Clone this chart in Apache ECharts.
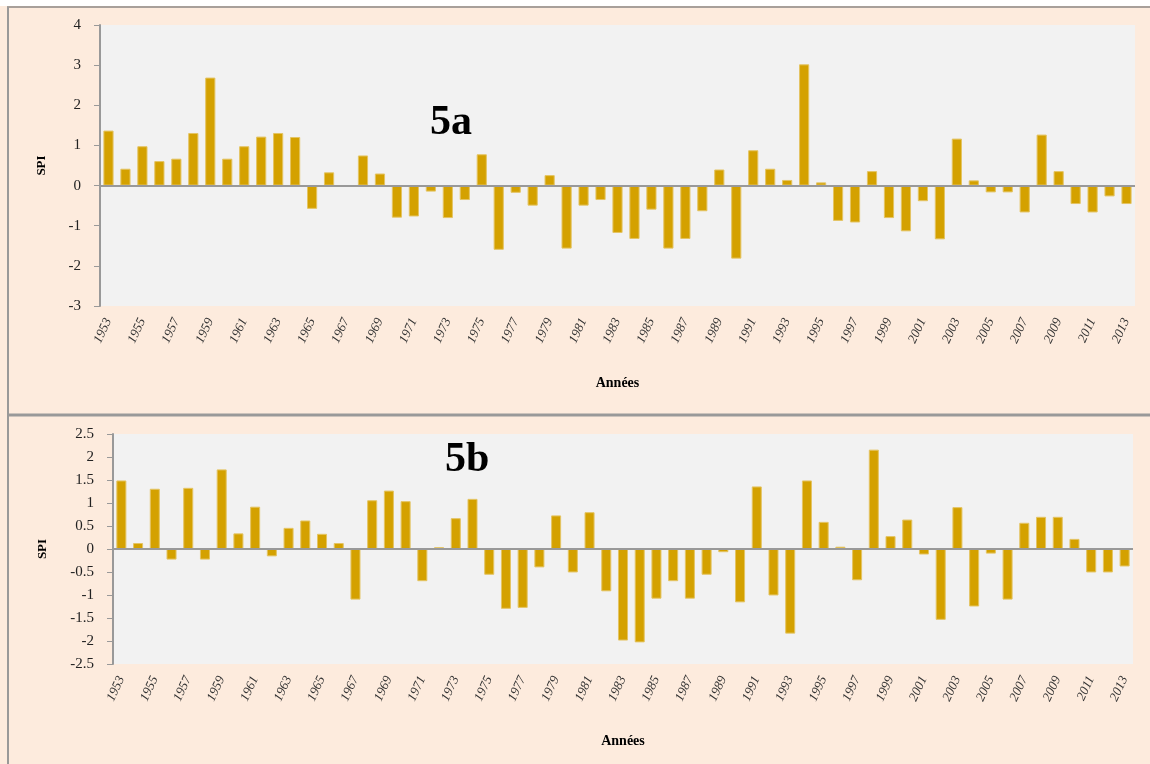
<!DOCTYPE html>
<html>
<head>
<meta charset="utf-8">
<title>SPI 5a / 5b</title>
<script src="https://cdn.jsdelivr.net/npm/echarts@6/dist/echarts.min.js"></script>
<style>
  html, body { margin: 0; padding: 0; background: #fff; }
  #chart { width: 1150px; height: 764px; }
</style>
</head>
<body>
<div id="chart"></div>
<script>
// années 1953 - 2013
var years = [];
for (var y = 1953; y <= 2013; y++) years.push(String(y));

// SPI, figure 5a
var spiA = [
  1.37, 0.42, 0.98, 0.61, 0.67, 1.31, 2.69, 0.67, 0.98, 1.22,
  1.31, 1.21, -0.58, 0.33, 0, 0.75, 0.30, -0.80, -0.77, -0.15,
  -0.81, -0.36, 0.78, -1.60, -0.18, -0.50, 0.26, -1.57, -0.50, -0.36,
  -1.18, -1.33, -0.60, -1.57, -1.33, -0.64, 0.40, -1.82, 0.88, 0.42,
  0.14, 3.02, 0.08, -0.88, -0.92, 0.36, -0.81, -1.14, -0.39, -1.34,
  1.17, 0.13, -0.17, -0.17, -0.67, 1.27, 0.36, -0.46, -0.67, -0.27,
  -0.46
];

// SPI, figure 5b
var spiB = [
  1.49, 0.13, 1.31, -0.23, 1.33, -0.23, 1.73, 0.34, 0.92, -0.16,
  0.46, 0.62, 0.33, 0.13, -1.10, 1.06, 1.27, 1.04, -0.70, 0.04,
  0.67, 1.09, -0.56, -1.30, -1.28, -0.40, 0.73, -0.51, 0.80, -0.92,
  -1.99, -2.03, -1.08, -0.70, -1.08, -0.56, -0.07, -1.16, 1.36, -1.01,
  -1.84, 1.49, 0.59, 0.05, -0.68, 2.16, 0.28, 0.64, -0.12, -1.54,
  0.91, -1.25, -0.10, -1.10, 0.57, 0.70, 0.70, 0.22, -0.51, -0.51,
  -0.38
];

var serif = "'Liberation Serif', 'DejaVu Serif', serif";
var barColor = "#D4A100";

function xAxisOf(gi) {
  return {
    type: "category",
    gridIndex: gi,
    data: years,
    axisLine: { show: false },
    axisTick: { show: false },
    axisLabel: {
      interval: 1,
      rotate: 65,
      margin: 13,
      fontFamily: serif,
      fontStyle: "italic",
      fontSize: 13,
      color: "#333"
    },
    name: "Années",
    nameLocation: "middle",
    nameGap: 70,
    nameTextStyle: { fontFamily: serif, fontWeight: "bold", fontSize: 14, color: "#000" }
  };
}

function yAxisOf(gi, min, max, step, gap) {
  return {
    type: "value",
    gridIndex: gi,
    min: min,
    max: max,
    interval: step,
    axisLine: { show: true, lineStyle: { color: "#999", width: 2 } },
    axisTick: { show: true, length: 6, lineStyle: { color: "#999" } },
    axisLabel: { margin: 19, fontFamily: serif, fontSize: 15, color: "#222" },
    splitLine: { show: false },
    name: "SPI",
    nameLocation: "middle",
    nameGap: gap,
    nameTextStyle: { fontFamily: serif, fontWeight: "bold", fontSize: 13, color: "#000" }
  };
}

function barsOf(gi, values) {
  return {
    type: "bar",
    xAxisIndex: gi,
    yAxisIndex: gi,
    data: values,
    barCategoryGap: "40%",
    itemStyle: { color: barColor, borderColor: "#E4C463", borderWidth: 1 },
    animation: false,
    markLine: {
      silent: true,
      symbol: "none",
      label: { show: false },
      lineStyle: { color: "#999", type: "solid", width: 2 },
      data: [{ yAxis: 0 }],
      animation: false
    }
  };
}

var myChart = echarts.init(document.getElementById("chart"), null, { renderer: "canvas" });
myChart.setOption({
  backgroundColor: "#FDEBDD",
  animation: false,
  graphic: [
    { type: "rect", shape: { x: 0, y: 0, width: 1150, height: 6 }, style: { fill: "#fff" } },
    { type: "line", shape: { x1: 7, y1: 7, x2: 1150, y2: 7 }, style: { stroke: "#a8a09a", lineWidth: 2 } },
    { type: "line", shape: { x1: 8, y1: 7, x2: 8, y2: 764 }, style: { stroke: "#999", lineWidth: 2 } },
    { type: "line", shape: { x1: 8, y1: 415, x2: 1150, y2: 415 }, style: { stroke: "#999", lineWidth: 3 } }
  ],
  title: [
    { text: "5a", left: 425, top: 97, textStyle: { fontFamily: serif, fontWeight: "bold", fontSize: 42, color: "#000" } },
    { text: "5b", left: 440, top: 434, textStyle: { fontFamily: serif, fontWeight: "bold", fontSize: 42, color: "#000" } }
  ],
  grid: [
    { left: 100, top: 25, width: 1035, height: 281, show: true, backgroundColor: "#F2F2F2", borderWidth: 0 },
    { left: 113, top: 434, width: 1020, height: 230, show: true, backgroundColor: "#F2F2F2", borderWidth: 0 }
  ],
  xAxis: [xAxisOf(0), xAxisOf(1)],
  yAxis: [yAxisOf(0, -3, 4, 1, 52), yAxisOf(1, -2.5, 2.5, 0.5, 64)],
  series: [barsOf(0, spiA), barsOf(1, spiB)]
});
</script>
</body>
</html>
